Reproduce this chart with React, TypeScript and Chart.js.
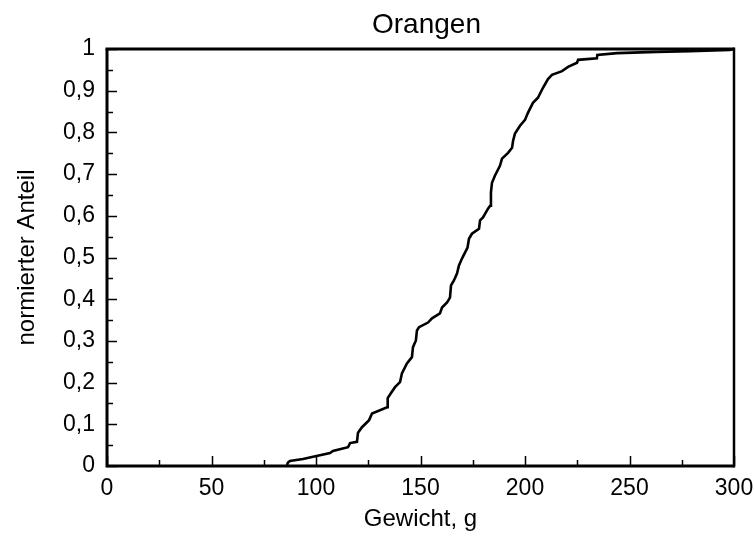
import React, { useEffect, useRef } from "react";
import { Chart, registerables } from "chart.js";

Chart.register(...registerables);

const TITLE = "Orangen";
const X_TITLE = "Gewicht, g";
const Y_TITLE = "normierter Anteil";

const weights = [
  86.1, 86.5, 87.5, 93.8, 98.6, 103, 106.7, 108.1, 115.3, 116.3, 119.6, 120.1, 122, 125.4, 126.8,
  134, 134.3, 135.9, 137.8, 140.2, 141.1, 143.5, 145.9, 146.4, 147.8, 148.3, 149.3, 153.6, 155.5,
  159.3, 160.3, 162.7, 164.1, 164.6, 166, 167.5, 168.4, 169.9, 172.5, 173.2, 174.6, 178, 178.5,
  179.9, 182.3, 183.3, 183.7, 184.2, 185.6, 188, 189, 191.9, 193.8, 194.3, 195.2, 197.6, 200,
  201.4, 203.8, 206.2, 208.6, 211, 212.9, 217.7, 220.6, 224.9, 225.4, 234.4, 234.6, 244, 263, 279,
  298, 300,
];
const shares = [
  0, 0.008, 0.012, 0.017, 0.022, 0.027, 0.031, 0.036, 0.045, 0.055, 0.058, 0.08, 0.093, 0.11, 0.126,
  0.141, 0.163, 0.175, 0.189, 0.201, 0.222, 0.246, 0.261, 0.285, 0.301, 0.325, 0.333, 0.344, 0.354,
  0.366, 0.38, 0.392, 0.404, 0.433, 0.445, 0.462, 0.481, 0.498, 0.524, 0.545, 0.557, 0.569, 0.589,
  0.596, 0.617, 0.624, 0.656, 0.679, 0.696, 0.72, 0.737, 0.751, 0.763, 0.78, 0.797, 0.816, 0.83,
  0.847, 0.871, 0.883, 0.907, 0.928, 0.938, 0.947, 0.957, 0.967, 0.974, 0.978, 0.986, 0.99, 0.993,
  0.995, 0.998, 1.0,
];

const xMajorTicks = [0, 50, 100, 150, 200, 250, 300];
const xMinorTicks = [25, 75, 125, 175, 225, 275];
const yMajorTicks = [0, 0.1, 0.2, 0.3, 0.4, 0.5, 0.6, 0.7, 0.8, 0.9, 1];
const yMinorTicks = [0.05, 0.15, 0.25, 0.35, 0.45, 0.55, 0.65, 0.75, 0.85, 0.95];

const FONT = "'Liberation Sans', Arial, Helvetica, sans-serif";

const frameTicksPlugin = {
  id: "frameTicks",
  afterDraw(chart: any) {
    const { ctx, chartArea } = chart;
    const xs = chart.scales.x;
    const ys = chart.scales.y;
    const { left, right, top, bottom } = chartArea;
    ctx.save();
    // title, centred over the plot area
    ctx.fillStyle = "#000";
    ctx.font = `28px ${FONT}`;
    ctx.textAlign = "center";
    ctx.textBaseline = "alphabetic";
    ctx.fillText(TITLE, (left + right) / 2 + 6, top - 16);

    ctx.strokeStyle = "#000";
    ctx.lineCap = "butt";
    ctx.lineWidth = 1.5;
    const drawX = (vals: number[], len: number) => {
      vals.forEach((v) => {
        const px = Math.round(xs.getPixelForValue(v)) + 0.5;
        ctx.beginPath();
        ctx.moveTo(px, bottom);
        ctx.lineTo(px, bottom - len);
        ctx.stroke();
      });
    };
    const drawY = (vals: number[], len: number) => {
      vals.forEach((v) => {
        const py = Math.round(ys.getPixelForValue(v)) + 0.5;
        ctx.beginPath();
        ctx.moveTo(left, py);
        ctx.lineTo(left + len, py);
        ctx.stroke();
      });
    };
    drawX(xMajorTicks, 10);
    drawX(xMinorTicks, 6);
    drawY(yMajorTicks, 10);
    drawY(yMinorTicks, 6);
    // frame
    ctx.lineWidth = 3;
    ctx.beginPath();
    ctx.moveTo(left, top);
    ctx.lineTo(left, bottom);
    ctx.lineTo(right, bottom);
    ctx.stroke();
    ctx.beginPath();
    ctx.moveTo(left - 1.5, top);
    ctx.lineTo(right, top);
    ctx.stroke();
    ctx.lineWidth = 2.5;
    ctx.beginPath();
    ctx.moveTo(right, top - 1.5);
    ctx.lineTo(right, bottom + 1.5);
    ctx.stroke();
    ctx.restore();
  },
};

export default function App() {
  const ref = useRef<HTMLCanvasElement | null>(null);

  useEffect(() => {
    document.body.style.margin = "0";
    const canvas = ref.current;
    if (!canvas) return;
    Chart.defaults.font.family = FONT;
    Chart.defaults.color = "#000";
    const chart = new Chart(canvas, {
      type: "line",
      data: {
        datasets: [
          {
            data: weights.map((w, i) => ({ x: w, y: shares[i] })),
            borderColor: "#000",
            borderWidth: 2.6,
            pointRadius: 0,
            tension: 0,
            fill: false,
            borderJoinStyle: "miter",
          },
        ],
      },
      options: {
        responsive: false,
        animation: false,
        layout: { padding: { left: 0, right: 0, top: 49, bottom: 0 } },
        plugins: {
          legend: { display: false },
          tooltip: { enabled: false },
          title: { display: false },
        },
        scales: {
          x: {
            type: "linear",
            min: 0,
            max: 300,
            grid: { display: false, drawTicks: false },
            border: { display: false },
            ticks: {
              stepSize: 50,
              padding: 9,
              color: "#000",
              font: { family: FONT, size: 23 },
              maxRotation: 0,
            },
            title: {
              display: true,
              text: X_TITLE,
              color: "#000",
              font: { family: FONT, size: 24 },
              padding: { top: 0, bottom: 3 },
            },
            afterFit(scale: any) {
              scale.height = 71;
              scale.paddingRight = 20;
              scale.paddingLeft = 0;
            },
          },
          y: {
            type: "linear",
            min: 0,
            max: 1,
            grid: { display: false, drawTicks: false },
            border: { display: false },
            ticks: {
              stepSize: 0.1,
              padding: 12,
              color: "#000",
              font: { family: FONT, size: 23 },
              callback: (v: any) => {
                const n = Number(v);
                if (Math.abs(n) < 1e-9) return "0";
                if (Math.abs(n - 1) < 1e-9) return "1";
                return n.toFixed(1).replace(".", ",");
              },
            },
            title: {
              display: true,
              text: Y_TITLE,
              color: "#000",
              font: { family: FONT, size: 24 },
              padding: { top: 13, bottom: 0 },
            },
            afterFit(scale: any) {
              scale.width = 107;
            },
          },
        },
      },
      plugins: [frameTicksPlugin],
    } as any);
    return () => chart.destroy();
  }, []);

  return (
    <div style={{ width: 754, height: 537 }}>
      <canvas ref={ref} width={754} height={537} style={{ display: "block", width: 754, height: 537 }} />
    </div>
  );
}
